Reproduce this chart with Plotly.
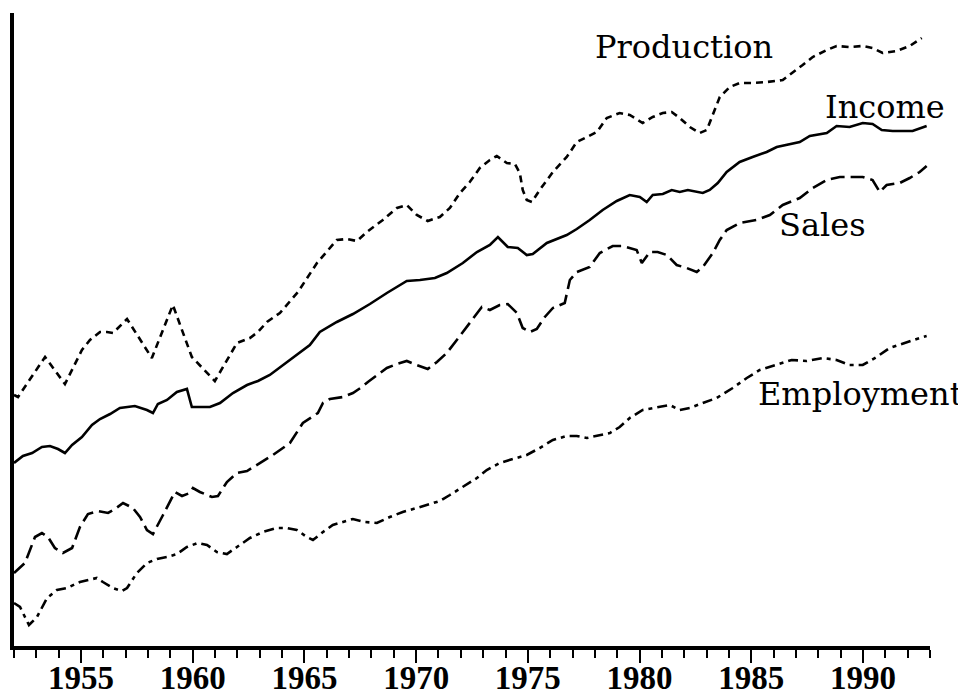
import plotly.graph_objects as go

# ---- data (arbitrary index units) ----
production_years = [1952.0, 1952.18, 1953.39, 1954.28, 1955.04, 1955.40, 1955.85, 1956.16, 1956.43, 1957.06,
                    1958.17, 1959.11, 1959.96, 1960.99, 1961.98, 1962.56, 1962.92, 1963.32, 1963.90, 1964.71,
                    1965.56, 1966.45, 1966.90, 1967.35, 1967.79, 1968.51, 1969.14, 1969.58, 1970.03, 1970.52,
                    1971.06, 1971.51, 1971.96, 1972.40, 1972.85, 1973.30, 1973.61, 1974.06, 1974.42, 1974.64,
                    1974.77, 1974.95, 1975.18, 1975.53, 1976.12, 1976.74, 1977.19, 1977.64, 1978.09, 1978.53,
                    1979.11, 1979.56, 1980.14, 1980.59, 1981.04, 1981.44, 1981.80, 1982.25, 1982.69, 1983.01,
                    1983.36, 1983.59, 1984.04, 1984.48, 1985.06, 1985.69, 1986.41, 1986.85, 1987.30, 1987.75,
                    1988.38, 1988.82, 1989.40, 1989.99, 1990.43, 1990.88, 1991.51, 1992.09, 1992.54, 1992.63]
production = [25.1, 24.9, 28.9, 26.2, 29.6, 30.6, 31.4, 31.4, 31.3, 32.7,
              28.8, 34.1, 28.9, 26.5, 30.3, 30.8, 31.4, 32.4, 33.3, 35.4,
              38.3, 40.6, 40.7, 40.5, 41.4, 42.6, 43.8, 44.1, 43.1, 42.5,
              42.9, 43.8, 45.3, 46.4, 47.8, 48.6, 49.0, 48.3, 48.2, 47.3,
              45.6, 44.6, 44.4, 45.6, 47.4, 48.9, 50.4, 50.9, 51.4, 52.8,
              53.3, 53.1, 52.3, 52.9, 53.3, 53.4, 52.8, 51.9, 51.3, 51.6,
              53.6, 54.9, 55.9, 56.3, 56.3, 56.4, 56.6, 57.3, 58.1, 58.9,
              59.6, 60.0, 59.9, 60.0, 59.8, 59.3, 59.5, 60.0, 60.6, 60.8]

income_years = [1952.0, 1952.40, 1952.81, 1953.25, 1953.61, 1953.97, 1954.28, 1954.60, 1955.04, 1955.49,
                1955.85, 1956.30, 1956.74, 1957.41, 1957.95, 1958.22, 1958.44, 1958.85, 1959.29, 1959.74,
                1959.96, 1960.32, 1960.77, 1961.22, 1961.80, 1962.43, 1962.92, 1963.45, 1964.04, 1964.66,
                1965.24, 1965.69, 1966.45, 1967.17, 1967.93, 1968.69, 1969.58, 1970.17, 1970.84, 1971.37,
                1972.09, 1972.72, 1973.30, 1973.66, 1974.10, 1974.55, 1974.95, 1975.22, 1975.85, 1976.74,
                1977.19, 1977.77, 1978.35, 1978.98, 1979.56, 1980.01, 1980.32, 1980.59, 1981.04, 1981.44,
                1981.80, 1982.16, 1982.83, 1983.14, 1983.50, 1983.90, 1984.48, 1985.06, 1985.69, 1986.14,
                1986.72, 1987.17, 1987.62, 1988.38, 1988.82, 1989.40, 1989.99, 1990.43, 1990.84, 1991.33,
                1992.22, 1992.85]
income = [18.3, 19.0, 19.3, 19.9, 20.0, 19.7, 19.3, 20.1, 20.9, 22.1,
          22.7, 23.2, 23.8, 24.0, 23.6, 23.3, 24.2, 24.6, 25.4, 25.7,
          23.9, 23.9, 23.9, 24.3, 25.3, 26.1, 26.5, 27.1, 28.1, 29.1,
          30.1, 31.4, 32.4, 33.2, 34.2, 35.3, 36.5, 36.6, 36.8, 37.3,
          38.3, 39.4, 40.1, 40.9, 39.9, 39.8, 39.1, 39.2, 40.3, 41.1,
          41.7, 42.6, 43.6, 44.5, 45.1, 44.9, 44.4, 45.1, 45.2, 45.6,
          45.4, 45.6, 45.3, 45.6, 46.3, 47.4, 48.4, 48.9, 49.4, 49.9,
          50.2, 50.4, 51.0, 51.3, 52.0, 51.9, 52.3, 52.2, 51.6, 51.5,
          51.5, 52.0]

sales_years = [1952.0, 1952.49, 1952.94, 1953.25, 1953.52, 1953.83, 1954.19, 1954.60, 1954.95, 1955.31,
               1955.76, 1956.21, 1956.52, 1956.88, 1957.32, 1957.64, 1957.95, 1958.22, 1958.67, 1959.20,
               1959.52, 1959.87, 1960.01, 1960.32, 1960.86, 1961.13, 1961.53, 1961.98, 1962.43, 1962.87,
               1963.23, 1963.59, 1964.35, 1964.93, 1965.60, 1965.83, 1966.14, 1966.72, 1967.17, 1967.57,
               1967.84, 1968.24, 1968.69, 1969.14, 1969.58, 1970.03, 1970.52, 1970.93, 1971.37, 1971.82,
               1972.40, 1972.94, 1973.30, 1973.74, 1974.10, 1974.51, 1974.77, 1975.09, 1975.40, 1975.76,
               1976.12, 1976.65, 1976.88, 1977.19, 1977.77, 1978.22, 1978.80, 1979.25, 1979.87, 1980.10,
               1980.46, 1980.81, 1981.22, 1981.66, 1982.11, 1982.56, 1982.83, 1983.28, 1983.59, 1983.90,
               1984.48, 1985.24, 1985.83, 1986.41, 1987.17, 1987.75, 1988.38, 1988.96, 1989.99, 1990.43,
               1990.75, 1991.06, 1991.64, 1992.09, 1992.54, 1992.85]
sales = [7.3, 8.3, 10.9, 11.3, 10.9, 9.8, 9.3, 9.8, 11.9, 13.2,
         13.5, 13.3, 13.7, 14.3, 13.8, 12.9, 11.6, 11.2, 13.1, 15.4,
         15.0, 15.3, 15.8, 15.4, 14.9, 15.0, 16.4, 17.3, 17.5, 18.1,
         18.6, 19.1, 20.3, 22.3, 23.3, 24.3, 24.7, 24.9, 25.3, 25.9,
         26.4, 27.1, 27.8, 28.2, 28.5, 28.1, 27.7, 28.4, 29.3, 30.6,
         32.3, 33.9, 33.6, 34.1, 34.2, 33.3, 31.8, 31.4, 31.7, 32.9,
         33.8, 34.3, 36.6, 37.4, 37.9, 39.3, 40.0, 40.0, 39.6, 38.3,
         39.4, 39.4, 39.1, 38.1, 37.8, 37.4, 37.9, 39.3, 40.6, 41.6,
         42.3, 42.6, 43.1, 44.1, 44.8, 45.8, 46.6, 46.9, 46.9, 46.6,
         45.4, 46.1, 46.3, 46.8, 47.4, 48.0]

employment_years = [1952.0, 1952.27, 1952.49, 1952.67, 1953.03, 1953.48, 1953.92, 1954.37, 1954.95, 1955.40,
                    1955.71, 1955.98, 1956.43, 1956.83, 1957.06, 1957.50, 1957.95, 1958.40, 1958.85, 1959.29,
                    1959.74, 1960.23, 1960.64, 1961.08, 1961.53, 1961.98, 1962.56, 1963.14, 1963.77, 1964.21,
                    1964.66, 1965.11, 1965.38, 1965.83, 1966.27, 1966.72, 1967.17, 1967.70, 1968.24, 1968.82,
                    1969.40, 1970.03, 1970.48, 1971.06, 1971.51, 1972.09, 1972.72, 1973.16, 1973.74, 1974.33,
                    1974.95, 1975.53, 1976.12, 1976.74, 1977.19, 1977.64, 1978.09, 1978.67, 1979.11, 1979.56,
                    1980.14, 1980.77, 1981.35, 1981.80, 1982.25, 1982.83, 1983.45, 1984.17, 1984.80, 1985.38,
                    1986.14, 1986.81, 1987.48, 1988.20, 1988.82, 1989.40, 1989.99, 1990.61, 1991.19, 1991.96,
                    1992.67, 1992.85]
employment = [4.3, 3.9, 2.9, 2.1, 2.9, 4.8, 5.6, 5.8, 6.4, 6.6,
              6.8, 6.4, 5.8, 5.5, 5.8, 7.3, 8.3, 8.7, 8.9, 9.2,
              9.9, 10.3, 10.1, 9.4, 9.2, 9.9, 10.8, 11.4, 11.8, 11.8,
              11.6, 10.9, 10.6, 11.4, 12.1, 12.4, 12.7, 12.4, 12.3, 12.9,
              13.4, 13.8, 14.1, 14.5, 15.1, 15.9, 16.8, 17.6, 18.3, 18.7,
              19.1, 19.8, 20.6, 21.0, 21.0, 20.8, 21.0, 21.3, 21.9, 22.8,
              23.6, 23.9, 24.1, 23.6, 23.8, 24.3, 24.8, 25.8, 26.8, 27.6,
              28.1, 28.6, 28.5, 28.8, 28.6, 28.1, 28.1, 28.9, 29.8, 30.4,
              30.9, 31.0]

series_names = ["Production", "Income", "Sales", "Employment"]
tick_years = [1955, 1960, 1965, 1970, 1975, 1980, 1985, 1990]
tick_labels = [str(y) for y in tick_years]

# ---- figure ----
fig = go.Figure()
styles = {
    "Production": dict(dash="7px,5px", width=2.6),
    "Income": dict(dash="solid", width=2.6),
    "Sales": dict(dash="14px,6px", width=2.6),
    "Employment": dict(dash="10px,5px,4px,5px", width=2.6),
}
data = {
    "Production": (production_years, production),
    "Income": (income_years, income),
    "Sales": (sales_years, sales),
    "Employment": (employment_years, employment),
}
for name in series_names:
    xs, ys = data[name]
    fig.add_trace(go.Scatter(x=xs, y=ys, mode="lines", name=name,
                             line=dict(color="black", **styles[name])))

label_pos = {
    "Production": (1977.9, 59.9),
    "Income": (1988.2, 53.9),
    "Sales": (1986.15, 42.1),
    "Employment": (1985.2, 25.2),
}
for name in series_names:
    x, y = label_pos[name]
    fig.add_annotation(x=x, y=y, text=name, showarrow=False, xanchor="left", yanchor="middle",
                       font=dict(family="DejaVu Serif", size=32, color="black"))

fig.update_layout(
    width=966, height=697,
    margin=dict(l=6, r=44, t=5, b=59, autoexpand=False),
    paper_bgcolor="white", plot_bgcolor="white",
    showlegend=False,
)
fig.update_xaxes(
    range=[1952, 1993], showgrid=False, zeroline=False, automargin=False,
    showline=True, linecolor="black", linewidth=4,
    tickmode="array", tickvals=tick_years, ticktext=tick_labels,
    ticks="outside", ticklen=13, tickwidth=2, tickcolor="black",
    ticklabelstandoff=-14,
    minor=dict(tickmode="linear", tick0=1952, dtick=1, ticks="outside", ticklen=8, tickwidth=2, tickcolor="black"),
    tickfont=dict(family="Liberation Serif", size=33, color="black", weight="bold"),
)
fig.update_yaxes(
    range=[0, 63.3], showgrid=False, zeroline=False, automargin=False,
    showline=True, linecolor="black", linewidth=4,
    showticklabels=False, ticks="",
)

fig.write_html("out.html")
